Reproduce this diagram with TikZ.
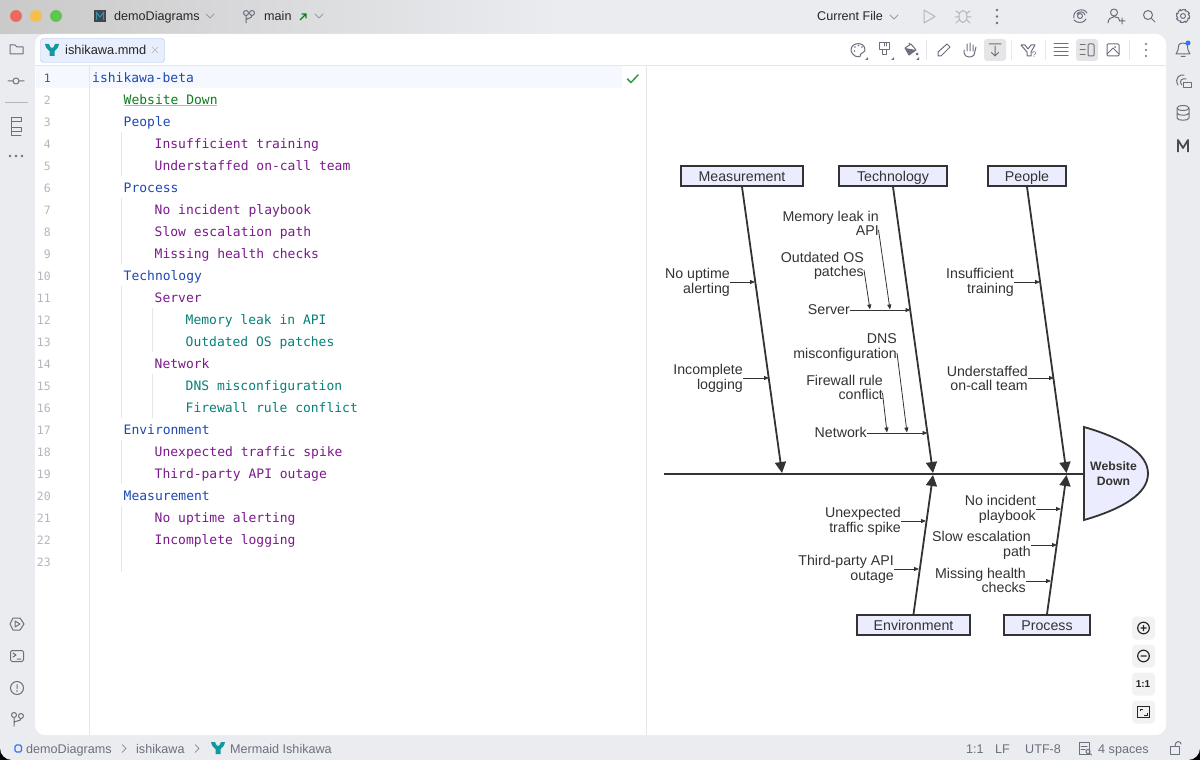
\documentclass[tikz,border=0pt]{standalone}
\usepackage{fontspec}
\setmainfont{Liberation Sans}
\newfontfamily\codefont{DejaVu Sans Mono}
\usetikzlibrary{arrows.meta}

\definecolor{stripgray}{HTML}{EBECF0}
\definecolor{icongray}{HTML}{6C707E}
\definecolor{softgray}{HTML}{B4B6BC}
\definecolor{rulegray}{HTML}{E6E7EA}
\definecolor{codeblue}{HTML}{1E49B3}
\definecolor{codegreen}{HTML}{0B7F1C}
\definecolor{codepurple}{HTML}{7B1A8C}
\definecolor{codeteal}{HTML}{06807A}
\definecolor{fishfill}{HTML}{ECECFF}
\definecolor{fishline}{HTML}{333333}
\definecolor{mermaidteal}{HTML}{0E9AA0}
\definecolor{caretline}{HTML}{F5F8FE}
\definecolor{tabfill}{HTML}{E8EEFC}
\definecolor{tabline}{HTML}{A9C1F5}
\definecolor{lightred}{HTML}{ED6A5E}
\definecolor{lightyellow}{HTML}{F5BF4F}
\definecolor{lightgreen}{HTML}{61C554}
\definecolor{linkblue}{HTML}{3574F0}

\tikzset{
    codeline/.style={font=\codefont\fontsize{13}{13}\selectfont,inner sep=0pt,anchor=base west},
    lineno/.style={font=\codefont\fontsize{11.5}{11.5}\selectfont,inner sep=0pt,anchor=base east,text=softgray},
    uitext/.style={font=\fontsize{12.6}{12.6}\selectfont,inner sep=0pt,anchor=base west,text=black!85},
    statustext/.style={font=\fontsize{12.6}{12.6}\selectfont,inner sep=0pt,anchor=base west,text=icongray},
    fishbox/.style={draw=fishline,fill=fishfill,line width=1.8pt,inner sep=0pt,text=fishline,text height=13.5pt,text depth=2pt,font=\fontsize{14.2}{14.5}\selectfont},
    fishlabel/.style={align=right,inner sep=0pt,anchor=east,text=fishline,font=\fontsize{14.2}{14.5}\selectfont},
    bone/.style={draw=fishline,line width=1.8pt,-{Triangle[length=11pt,width=11pt]}},
    twig/.style={draw=fishline,line width=.8pt,-{Triangle[length=5pt,width=4pt]}},
    ico/.style={draw=icongray,line width=1pt,line cap=round,line join=round},
    softico/.style={draw=softgray,line width=1pt,line cap=round,line join=round},
    zoombtn/.style={fill=black!5,rounded corners=4pt},
}

\begin{document}
\begin{tikzpicture}[x=1pt,y=-1pt]
    \useasboundingbox (0,0) rectangle (1200,760);

    % Window and panels
    \fill [white] (0,0) rectangle (1200,400);
    \fill [black] (0,400) rectangle (1200,760);
    \fill [stripgray,rounded corners=12pt] (0,-20) rectangle (1200,760);
    \begin{scope}
        \clip [rounded corners=12pt] (0,-20) rectangle (1200,760);
        \shade [left color=black!21,right color=stripgray] (0,0) rectangle (560,34);
    \end{scope}
    \fill [white,rounded corners=10pt] (35,34) rectangle (1166,735);
    \draw [rulegray] (35,65.5) -- (1166,65.5);
    \fill [caretline] (36,66) rectangle (622,88);
    \draw [rulegray] (89.5,66) -- (89.5,735);
    \draw [rulegray] (646.5,66) -- (646.5,735);

    % Indent guides
    \foreach \x/\a/\b in {121.5/132/176, 121.5/198/264, 121.5/286/418, 121.5/440/484, 121.5/506/572, 152.5/308/352, 152.5/374/418} {
        \draw [rulegray] (\x,\a) -- (\x,\b);
    }

    % Line numbers
    \foreach \n in {2,...,23} {
        \node [lineno] (no\n) at (51,{60+22*\n}) {\n};
    }
    \node [lineno,text=black!65] (no1) at (51,82) {1};

    % Source text
    \foreach \n/\lev/\col/\txt in {
    1/92/codeblue/ishikawa-beta,
    2/123.5/codegreen/Website Down,
    3/123.5/codeblue/People,
    4/154.5/codepurple/Insufficient training,
    5/154.5/codepurple/Understaffed on-call team,
    6/123.5/codeblue/Process,
    7/154.5/codepurple/No incident playbook,
    8/154.5/codepurple/Slow escalation path,
    9/154.5/codepurple/Missing health checks,
    10/123.5/codeblue/Technology,
    11/154.5/codepurple/Server,
    12/185.5/codeteal/Memory leak in API,
    13/185.5/codeteal/Outdated OS patches,
    14/154.5/codepurple/Network,
    15/185.5/codeteal/DNS misconfiguration,
    16/185.5/codeteal/Firewall rule conflict,
    17/123.5/codeblue/Environment,
    18/154.5/codepurple/Unexpected traffic spike,
    19/154.5/codepurple/Third-party API outage,
    20/123.5/codeblue/Measurement,
    21/154.5/codepurple/No uptime alerting,
    22/154.5/codepurple/Incomplete logging} {
        \node [codeline,text=\col] (code\n) at (\lev,{60+22*\n}) {\txt};
    }
    \draw [softgray,line width=1pt] (123.5,105.5) -- (217,105.5);
    \draw [codegreen!80,line width=1.5pt,line cap=round,line join=round] (627.5,79) -- (631,82.5) -- (638,75);

    % Title bar
    \fill [lightred] (16,16) circle (6);
    \fill [lightyellow] (36,16) circle (6);
    \fill [lightgreen] (56,16) circle (6);
    \fill [black!80!cyan] (94,10) rectangle (106,22);
    \draw [cyan!70!black,line width=1pt] (96.5,20) -- (96.5,12.5) -- (100,17) -- (103.5,12.5) -- (103.5,20);
    \node [uitext] (project) at (114,21) {demoDiagrams};
    \draw [softico,draw=icongray!70] (206,14) -- (210,18) -- (214,14);
    \draw [ico] (246,13) circle (2.5) (252,13) circle (2.5) (246,15.5) -- (246,23) (252,15.5) .. controls (252,19) and (246,18) .. (246,20);
    \node [uitext] (branch) at (264,21) {main};
    \draw [codegreen,line width=1.2pt] (300,20) -- (306,14) (301.5,14) -- (306,14) -- (306,18.5);
    \draw [softico,draw=icongray!70] (315,14) -- (319,18) -- (323,14);
    \node [uitext] (runconf) at (817,21) {Current File};
    \draw [softico,draw=icongray!70] (890,15) -- (894,19) -- (898,15);
    \draw [softico] (924,10) -- (935,16.5) -- (924,23) -- cycle;
    \draw [softico] (963,16.5) ellipse (4 and 6) (956,11) -- (959,13) (970,11) -- (967,13) (955,17) -- (959,17) (971,17) -- (967,17) (956,23) -- (959,20) (970,23) -- (967,20);
    \foreach \y in {10,16.5,23} \fill [icongray] (997,\y) circle (1.3);
    \draw [ico] (1080,16) circle (2.5) (1074,18) .. controls (1072,10) and (1084,7) .. (1087,13) (1086,19) .. controls (1084,24) and (1076,23) .. (1074,20) (1077,14) .. controls (1079,11) and (1084,11) .. (1085,15);
    \draw [ico] (1114,12.5) circle (3.5) (1108,23) .. controls (1108,15) and (1120,15) .. (1120,21) (1119,21) -- (1125,21) (1122,18) -- (1122,24);
    \draw [ico] (1148,15) circle (4.5) (1151.5,18.5) -- (1155,22);
    \draw [ico] (1183,16) circle (2.5);
    \draw [ico] (1183,16) +(0:6.5)
        \foreach \t in {45,90,...,360} { -- +(\t-22:7) -- +(\t-22:5.5)  -- +(\t:6.5)} ;

    % Left strip
    \draw [ico] (10,45) -- (15,45) -- (17,47) -- (23,47) -- (23,54) -- (10,54) -- cycle;
    \draw [ico] (16,81) circle (3) (8,81) -- (13,81) (19,81) -- (24,81);
    \draw [softgray] (5,102.5) -- (28,102.5);
    \draw [ico] (11,117) rectangle (21,121) (11,127) rectangle (21,131) (11,121) -- (11,135) -- (21,135);
    \foreach \x in {10,16,22} \fill [icongray] (\x,156) circle (1.3);
    \draw [ico] (10,624) -- (13,618) -- (20,618) -- (24,624) -- (20,630) -- (13,630) -- cycle (15,621) -- (20,624) -- (15,627) -- cycle;
    \draw [ico,rounded corners=1.5pt] (10.5,650.5) rectangle (23.5,661.5);
    \draw [ico] (13,653) -- (16,655) -- (13,657) (17,659) -- (21,659);
    \draw [ico] (17,688) circle (6.5) (17,684.5) -- (17,688.5);
    \fill [icongray] (17,691) circle (.8);
    \draw [ico] (14,715) circle (2.5) (21,716) circle (2.5) (14,717.5) -- (14,726) (21,718.5) .. controls (21,722) and (14,720) .. (14,723);

    % Right strip
    \draw [ico] (1183,43) .. controls (1188,43) and (1188,47) .. (1188,50) -- (1190,54) -- (1176,54) -- (1178,50) .. controls (1178,47) and (1178,43) .. (1183,43) (1181,56.5) -- (1185,56.5);
    \fill [linkblue] (1188,43) circle (2.5);
    \draw [ico] (1178,85) .. controls (1174,78) and (1180,74) .. (1184,75) (1182,85) .. controls (1178,80) and (1183,78) .. (1186,79);
    \draw [ico] (1183,83) rectangle (1191,88);
    \draw [ico] (1183,108) ellipse (6 and 2.5) (1177,108) -- (1177,118) .. controls (1177,121) and (1189,121) .. (1189,118) -- (1189,108) (1177,113) .. controls (1177,116) and (1189,116) .. (1189,113);
    \draw [black!70,line width=1.8pt,line join=round] (1178,152) -- (1178,140) -- (1183,148) -- (1188,140) -- (1188,152);

    % Tab
    \draw [draw=tabline,fill=tabfill,rounded corners=3pt] (40.5,38.5) rectangle (164.5,62.5);
    \fill [mermaidteal] (45,44) -- (49,44) .. controls (50,47) and (51,48) .. (52,48) .. controls (53,48) and (54,47) .. (55,44) -- (59,44) .. controls (58.5,48) and (56,50) .. (54.5,51) -- (54.5,56) -- (49.5,56) -- (49.5,51) .. controls (48,50) and (45.5,48) .. (45,44) -- cycle;
    \node [uitext,font=\fontsize{12.8}{12.8}\selectfont] (tabname) at (65,55) {ishikawa.mmd};
    \draw [softgray] (152,47) -- (158,53) (158,47) -- (152,53);

    % Editor toolbar
    \fill [black!10,rounded corners=3pt] (984,39) rectangle (1006,61);
    \fill [black!10,rounded corners=3pt] (1076,39) rectangle (1098,61);
    \foreach \x in {926.5,1011.5,1045.5,1129.5} \draw [rulegray] (\x,40) -- (\x,60);
    % palette
    \draw [ico] (860,56.5) .. controls (852,58) and (851,50) .. (851,50) .. controls (851,42) and (865,41) .. (865,50) .. controls (865,53) and (860,52) .. (860,56.5);
    \foreach \x/\y in {855/47,858.5/45.5,862/47,854.5/51} \fill [icongray] (\x,\y) circle (.9);
    \fill [icongray] (868,60) -- (868,57) -- (865,60) -- cycle;
    % brush
    \draw [ico] (879,43) rectangle (889,50) (882,50) -- (882,55) -- (886,55) -- (886,50) (884,43) -- (884,46) (886.5,43) -- (886.5,46);
    \fill [icongray] (894,60) -- (894,57) -- (891,60) -- cycle;
    % bucket
    \draw [ico] (909,43) -- (910,45) (905,48) -- (911,44) -- (916,50) -- (909,55) -- cycle;
    \fill [icongray] (905,48) -- (916,50) -- (909,55) -- cycle;
    \fill [icongray] (917,54) circle (1.5);
    \fill [icongray] (919,60) -- (919,57) -- (916,60) -- cycle;
    % the rest of the row
    \draw [ico] (938,56) -- (938,52) -- (947,44) -- (950,47) -- (941,56) -- cycle;
    \draw [ico] (964,50) -- (964,53) .. controls (965,58) and (972,58) .. (974,55) -- (976,47) (967,51) -- (967,44) (970,51) -- (970,43) (973,51) -- (973,45);
    \draw [ico] (989,44) -- (1001,44) (995,46) -- (995,56) (991.5,52.5) -- (995,56) -- (998.5,52.5);
    \draw [ico] (1021,45) -- (1025,45) -- (1028,49) -- (1031,45) -- (1035,45) -- (1031,52) -- (1031,56) -- (1027,56) -- (1027,52) -- cycle;
    \node [inner sep=0pt,text=icongray,font=\fontsize{8}{8}\selectfont] (helpmark) at (1034,55) {?};
    \foreach \y in {44,48,52,56} \draw [ico] (1054,\y) -- (1068,\y);
    \foreach \y in {45,50,55} \draw [ico] (1080,\y) -- (1085,\y);
    \draw [ico,rounded corners=1pt] (1088,44) rectangle (1094,56);
    \draw [ico,rounded corners=1pt] (1107,44) rectangle (1119,56);
    \draw [ico] (1107,54) -- (1113,48) -- (1119,54);
    \fill [icongray] (1115,47) circle (1);
    \foreach \y in {44,50,56} \fill [icongray] (1146,\y) circle (1.2);

    % Fish spine and head
    \coordinate (tail) at (664,474);
    \coordinate (neck) at (1084,474);
    \draw [fishline,line width=1.8pt] (tail) -- (neck);
    \draw [draw=fishline,fill=fishfill,line width=1.8pt] (1084,427) .. controls (1122,438) and (1148,453) .. (1148,473.5) .. controls (1148,494) and (1122,509) .. (1084,520) -- cycle;
    \node [align=center,inner sep=0pt,text=fishline,font=\bfseries\fontsize{12.2}{14.5}\selectfont] (head) at (1113.5,473.5) {Website\\Down};

    % Category boxes
    \foreach \nm/\xa/\ya/\xb/\yb/\lab in {
    meas/681/166/803/186/Measurement,
    tech/839/166/947/186/Technology,
    peop/988/166/1066/186/People,
    envi/857/615/970/635/Environment,
    proc/1004/615/1090/635/Process} {
        \node [fishbox,minimum width=\xb-\xa,minimum height=\yb-\ya] (\nm) at ({(\xa+\xb)/2},{(\ya+\yb)/2}) {\lab};
    }

    % Bones into the spine
    \foreach \nm/\side/\jx/\jy in {meas/south/782/473, tech/south/933/473, peop/south/1066.5/473, envi/north/933/475, proc/north/1066.5/475} {
        \coordinate (\nm joint) at (\jx,\jy);
        \draw [bone] (\nm.\side) -- (\nm joint);
    }

    % Cause labels
    \foreach \nm/\rx/\cy/\lab in {
    noup/730/282.5/{No uptime\\alerting},
    incl/743/378.5/{Incomplete\\logging},
    mem/879/223.5/{Memory leak in\\API},
    outd/864/266/{Outdated OS\\patches},
    serv/850/309.5/{Server},
    dns/897/347.5/{DNS\\misconfiguration},
    fire/883/387.5/{Firewall rule\\conflict},
    netw/867/432/{Network},
    insu/1014/282.5/{Insufficient\\training},
    unde/1028/378.5/{Understaffed\\on-call team},
    unex/901/521.5/{Unexpected\\traffic spike},
    thir/894/569.5/{Third-party API\\outage},
    noin/1036/509.5/{No incident\\playbook},
    slow/1031/545.5/{Slow escalation\\path},
    miss/1026/580.5/{Missing health\\checks}} {
        \node [fishlabel] (\nm) at (\rx,\cy) {\lab};
    }

    % Twigs straight out of a label
    \foreach \nm/\ex/\ey in {
    noup/755/282, incl/769/378, serv/910.5/310, netw/927.5/433, insu/1040/282,
    unde/1054/378, unex/926/521, thir/919/569, noin/1061/509, slow/1057/545, miss/1051/581} {
        \coordinate (\nm tip) at (\ex,\ey);
        \draw [twig] (\nm.east |- \nm tip) -- (\nm tip);
    }

    % Twigs down onto a sub-branch
    \foreach \nm/\sx/\sy/\ex/\ey in {
    mem/878.5/230/890/309.5, outd/864/270/870/309.5, dns/897/353/907/432.5, fire/882.5/393/887/432.5} {
        \coordinate (\nm from) at (\sx,\sy);
        \coordinate (\nm tip) at (\ex,\ey);
        \draw [twig] (\nm from) -- (\nm tip);
    }

    % Zoom buttons
    \foreach \y in {628,656,684,712} {
        \fill [zoombtn] (1132,\y-11.5) rectangle (1155,\y+11.5);
    }
    \draw [black!85,line width=1.2pt] (1143.5,628) circle (5.8) (1140.5,628) -- (1146.5,628) (1143.5,625) -- (1143.5,631);
    \draw [black!85,line width=1.2pt] (1143.5,656) circle (5.8) (1140.5,656) -- (1146.5,656);
    \node [inner sep=0pt,text=black!85,font=\bfseries\fontsize{10}{10}\selectfont] (zoomone) at (1143,684) {1:1};
    \draw [black!85,line width=1.1pt] (1137.5,706.5) rectangle (1149.5,717.5);
    \draw [black!85,line width=1pt] (1140,711) -- (1140,709) -- (1143,709) (1147,713) -- (1147,715) -- (1144,715);

    % Status bar
    \draw [linkblue,line width=1.1pt,rounded corners=1.5pt] (15,745) rectangle (21.5,752);
    \node [statustext] (crumba) at (26,753) {demoDiagrams};
    \draw [icongray] (122,744.5) -- (126,748.5) -- (122,752.5);
    \node [statustext] (crumbb) at (136,753) {ishikawa};
    \draw [icongray] (195,744.5) -- (199,748.5) -- (195,752.5);
    \fill [mermaidteal] (211,742) -- (215,742) .. controls (216,745) and (217,746) .. (218,746) .. controls (219,746) and (220,745) .. (221,742) -- (225,742) .. controls (224.5,746) and (222,748) .. (220.5,749) -- (220.5,754) -- (215.5,754) -- (215.5,749) .. controls (214,748) and (211.5,746) .. (211,742) -- cycle;
    \node [statustext] (crumbc) at (230,753) {Mermaid Ishikawa};
    \node [statustext] (caret) at (966,753) {1:1};
    \node [statustext] (sepstyle) at (995,753) {LF};
    \node [statustext] (encoding) at (1025,753) {UTF-8};
    \draw [ico] (1079,742) rectangle (1089,754);
    \draw [ico] (1081,746) -- (1087,746) (1081,749) -- (1085,749);
    \draw [ico] (1088,751.5) circle (2) (1089.5,753) -- (1091.5,755);
    \node [statustext] (indent) at (1098,753) {4 spaces};
    \draw [ico] (1170,746) rectangle (1179,754);
    \draw [ico] (1175,746) .. controls (1175,740) and (1181,741) .. (1181,744);
\end{tikzpicture}
\end{document}
